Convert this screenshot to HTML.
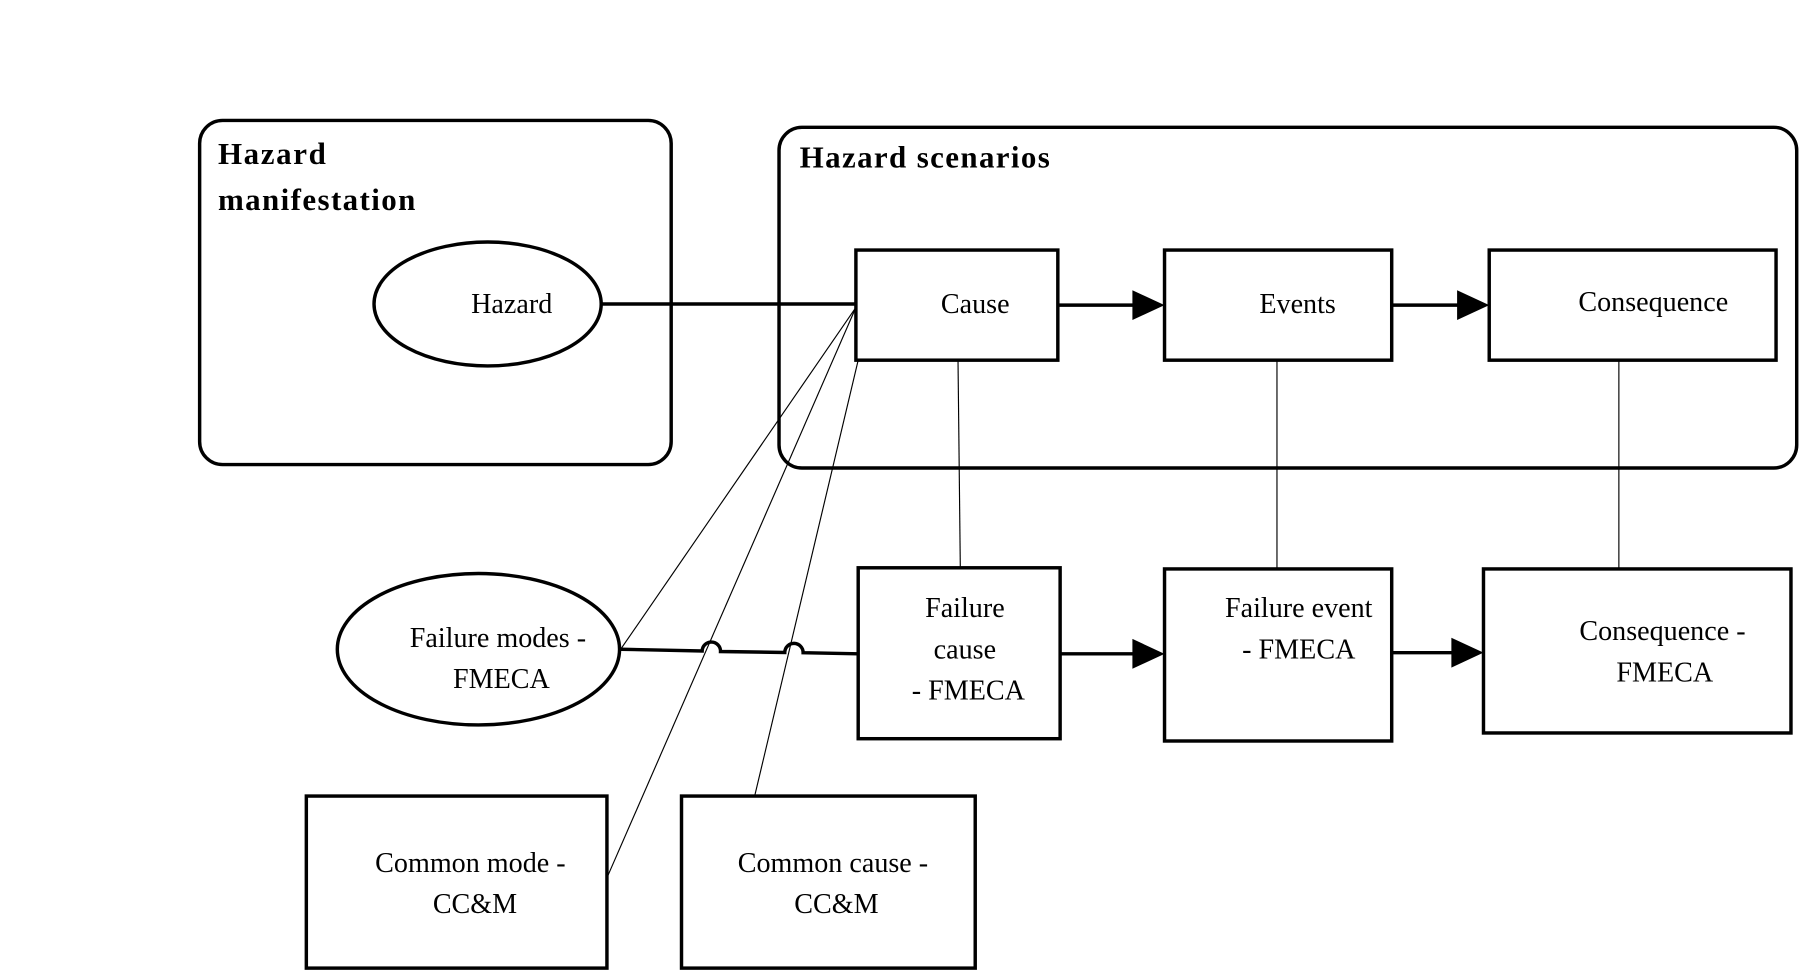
<!DOCTYPE html>
<html><head><meta charset="utf-8"><style>html,body{margin:0;padding:0;background:#fff}svg{display:block}</style></head>
<body>
<svg width="1799" height="975" viewBox="0 0 1568 850" preserveAspectRatio="none" xmlns="http://www.w3.org/2000/svg" font-family="Liberation Serif, serif" font-size="24.5">
<rect width="1568" height="850" fill="#fff"/>
<g fill="none" stroke="#000" stroke-width="3">
<rect x="174" y="105" width="411" height="300" rx="20"/>
<rect x="679" y="111" width="887" height="297" rx="20"/>
<ellipse cx="425" cy="265" rx="99" ry="54"/>
<line x1="524" y1="265" x2="746" y2="265"/>
<rect x="746" y="218" width="176" height="96"/>
<rect x="1015" y="218" width="198" height="96"/>
<rect x="1298" y="218" width="250" height="96"/>
<line x1="922" y1="266" x2="990" y2="266"/>
<line x1="1213" y1="266" x2="1272" y2="266"/>
<ellipse cx="417" cy="566" rx="123" ry="66"/>
<path d="M541 566 L612 567.5 A8 8 0 0 1 628 568 L684 568.8 A8 8 0 0 1 700 569 L748 570"/>
<rect x="748" y="495" width="176" height="149"/>
<rect x="1015" y="496" width="198" height="150"/>
<rect x="1293" y="496" width="268" height="143"/>
<line x1="924" y1="570" x2="990" y2="570"/>
<line x1="1213" y1="569" x2="1268" y2="569"/>
<rect x="267" y="694" width="262" height="150"/>
<rect x="594" y="694" width="256" height="150"/>
</g>
<g fill="#000">
<polygon points="987,253 1015,266 987,279"/>
<polygon points="1270,253 1298,266 1270,279"/>
<polygon points="987,557 1015,570 987,583"/>
<polygon points="1265,556 1293,569 1265,582"/>
</g>
<g stroke="#000" stroke-width="1" fill="none">
<line x1="835" y1="314" x2="837" y2="495"/>
<line x1="1113" y1="314" x2="1113" y2="496"/>
<line x1="1411" y1="314" x2="1411" y2="496"/>
<line x1="746" y1="268" x2="541" y2="566"/>
<line x1="746" y1="268" x2="530" y2="763"/>
<line x1="748" y1="314" x2="658" y2="693"/>
</g>
<g font-weight="bold" font-size="27">
<text x="190" y="143" textLength="94">Hazard</text>
<text x="190" y="183" textLength="172">manifestation</text>
<text x="697" y="146" textLength="218">Hazard scenarios</text>
</g>
<g text-anchor="middle">
<text x="446" y="273">Hazard</text>
<text x="850" y="273">Cause</text>
<text x="1131" y="273">Events</text>
<text x="1441" y="271">Consequence</text>
<text x="434" y="564">Failure modes -</text>
<text x="437" y="600">FMECA</text>
<text x="841" y="538">Failure</text>
<text x="841" y="574">cause</text>
<text x="844" y="610">- FMECA</text>
<text x="1132" y="538">Failure event</text>
<text x="1132" y="574">- FMECA</text>
<text x="1449" y="558">Consequence -</text>
<text x="1451" y="594">FMECA</text>
<text x="410" y="760">Common mode -</text>
<text x="414" y="796">CC&amp;M</text>
<text x="726" y="760">Common cause -</text>
<text x="729" y="796">CC&amp;M</text>
</g>
</svg>
</body></html>
